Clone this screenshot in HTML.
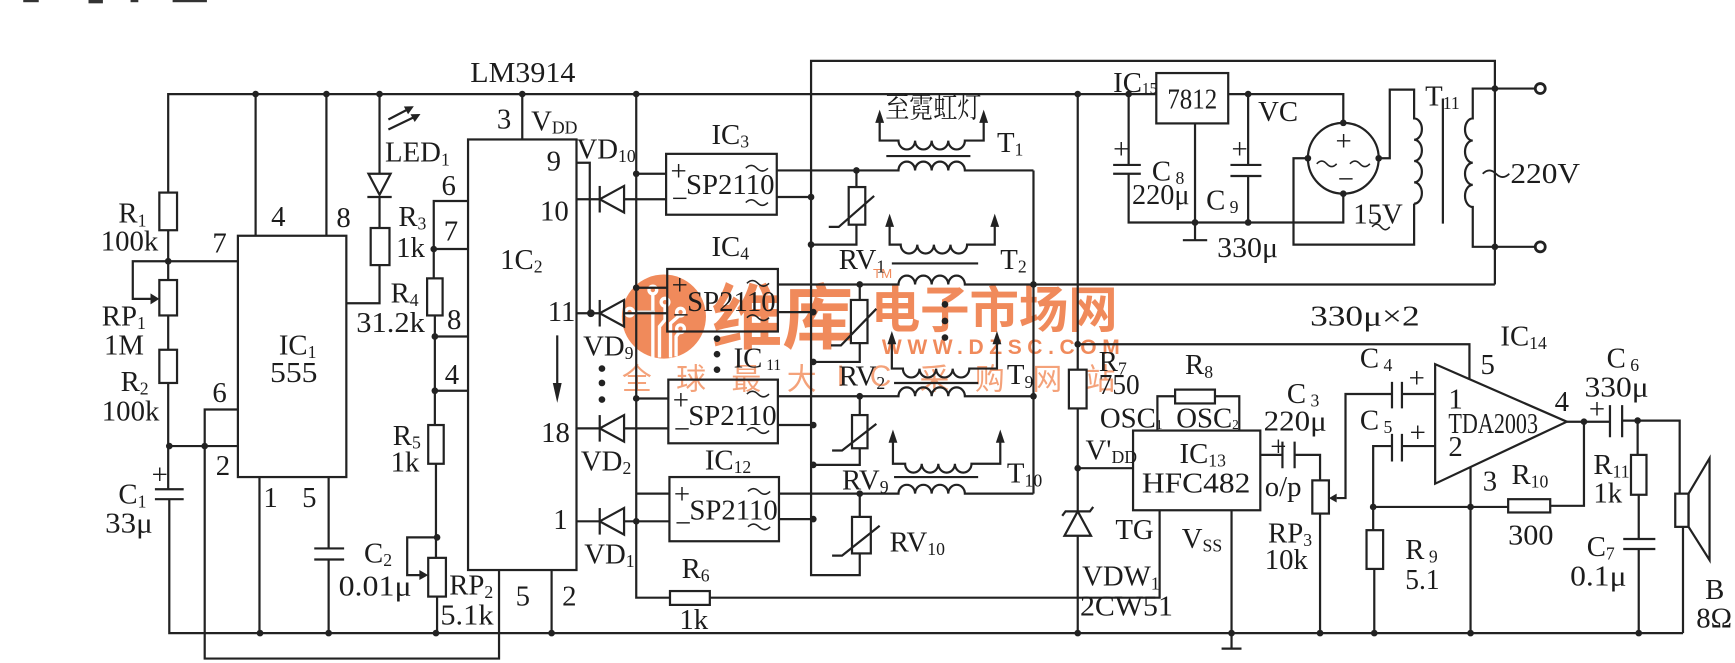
<!DOCTYPE html>
<html><head><meta charset="utf-8">
<style>
html,body{margin:0;padding:0;background:#fff;width:1735px;height:663px;overflow:hidden}
svg{display:block}
text{font-family:"Liberation Serif","Noto Serif CJK SC",serif;fill:#1c1c1c;dominant-baseline:central;font-size:26px}
</style></head><body>
<svg width="1735" height="663" viewBox="0 0 1568 599" preserveAspectRatio="none" xmlns="http://www.w3.org/2000/svg">
<rect x="0" y="0" width="1568" height="599" fill="#fff"/>
<g fill="#333"><rect x="21" y="0" width="14" height="2"/><rect x="80" y="0" width="13" height="3"/><rect x="118" y="0" width="7" height="2"/><rect x="156" y="0" width="31" height="2"/></g>

<!-- watermark -->
<g>
 <circle cx="600" cy="286" r="38" fill="#f08a5b"/>
 <g stroke="#fff" stroke-width="3" fill="none">
  <path d="M590,266 V323 M601,277 V289 L596,295 V323 M614,285 L606,292 V323 M614,300 L611,304 V322"/>
  <path d="M573,282 H592" stroke="#d9d9d9"/>
  <circle cx="590" cy="262" r="3.5"/><circle cx="601" cy="273" r="3.5"/><circle cx="569" cy="282" r="3.5"/><circle cx="615" cy="282" r="3.5"/><circle cx="615" cy="297" r="3.5"/>
 </g>
 <text x="643" y="283" style="font-family:'Noto Sans CJK SC',sans-serif;font-size:64px;font-weight:bold;fill:#f08a5b" textLength="128" lengthAdjust="spacingAndGlyphs">维库</text>
 <text x="787" y="277" style="font-family:'Noto Sans CJK SC',sans-serif;font-size:45px;font-weight:bold;fill:#f08a5b" textLength="223" lengthAdjust="spacingAndGlyphs">电子市场网</text>
 <text x="797" y="314" style="font-family:'Liberation Sans',sans-serif;font-size:19px;font-weight:bold;fill:#f08a5b" textLength="215" lengthAdjust="spacing">WWW.DZSC.COM</text>
 <text x="789" y="247" style="font-family:'Liberation Sans',sans-serif;font-size:12px;fill:#f08a5b">TM</text>
 <text x="562" y="340" style="font-family:'Noto Sans CJK SC',sans-serif;font-size:27px;fill:#f4a27a">全</text>
 <text x="611" y="340" style="font-family:'Noto Sans CJK SC',sans-serif;font-size:27px;fill:#f4a27a">球</text>
 <text x="661" y="340" style="font-family:'Noto Sans CJK SC',sans-serif;font-size:27px;fill:#f4a27a">最</text>
 <text x="711" y="340" style="font-family:'Noto Sans CJK SC',sans-serif;font-size:27px;fill:#f4a27a">大</text>
 <text x="756" y="340" style="font-family:'Liberation Sans',sans-serif;font-size:27px;fill:#f4a27a">I</text>
 <text x="786" y="340" style="font-family:'Liberation Sans',sans-serif;font-size:27px;fill:#f4a27a">C</text>
 <text x="831" y="340" style="font-family:'Noto Sans CJK SC',sans-serif;font-size:27px;fill:#f4a27a">采</text>
 <text x="881" y="340" style="font-family:'Noto Sans CJK SC',sans-serif;font-size:27px;fill:#f4a27a">购</text>
 <text x="933" y="340" style="font-family:'Noto Sans CJK SC',sans-serif;font-size:27px;fill:#f4a27a">网</text>
 <text x="981" y="340" style="font-family:'Noto Sans CJK SC',sans-serif;font-size:27px;fill:#f4a27a">站</text>
</g>

<!-- wires -->
<g stroke="#222" stroke-width="2" fill="none">
 <path d="M152,174 V85 H1045"/>
 <rect x="144" y="174" width="16" height="34"/>
 <path d="M152,208 V253"/>
 <rect x="144" y="253" width="16" height="32"/>
 <path d="M152,285 V316"/>
 <rect x="144" y="316" width="16" height="30"/>
 <path d="M152,346 V442"/>
 <path d="M140,442 H166 M140,451 H166"/>
 <path d="M153,451 V572 H1521"/>
 <path d="M152,236 H120 V270 H136"/>
 <path d="M152,236 H215"/>
 <rect x="215" y="213" width="98" height="218"/>
 <path d="M231,85 V213 M295,85 V213"/>
 <path d="M153,403 H215"/>
 <path d="M215,370 H185 V595 H451 V515"/>
 <path d="M234.5,431 V572"/>
 <path d="M297,431 V495.5 M284,495.5 H311 M284,505.5 H311 M297,505.5 V572"/>
 <path d="M343,85 V157"/>
 <polygon points="333,157 353,157 343,176"/>
 <path d="M332,178 H354 M343,178 V206"/>
 <rect x="335" y="206" width="17" height="33.5"/>
 <path d="M343,239.5 V274 H313"/>
 <path d="M351,108 L372,97 M351,117 L378,104"/>
 <path d="M423,181.6 H392 V251.5 M392,225 H423"/>
 <rect x="386" y="251.5" width="14" height="33.5"/>
 <path d="M393,285 V384 M393,304 H423 M393,353 H423"/>
 <rect x="387" y="384" width="14" height="35"/>
 <path d="M394,419 V504"/>
 <rect x="387" y="504" width="16" height="35"/>
 <path d="M395,539 V572"/>
 <path d="M395,485.5 H368 V519.6 H380"/>
 <rect x="423" y="126" width="98" height="389"/>
 <path d="M472,85 V126"/>
 <path d="M498.5,515 V572"/>
 <path d="M503.6,303 V350"/>
 <path d="M521,147 H533 V283"/>
 <path d="M521,180 H542 M564,180 H602"/>
 <polygon points="564,168 564,192 542,180"/><path d="M542,168 V192"/>
 <path d="M521,283 H542 M564,283 H603"/>
 <polygon points="564,271 564,295 542,283"/><path d="M542,271 V295"/>
 <path d="M521,387 H542 M564,387 H604"/>
 <polygon points="564,375 564,399 542,387"/><path d="M542,375 V399"/>
 <path d="M521,471 H542 M564,471 H605"/>
 <polygon points="564,459 564,483 542,471"/><path d="M542,459 V483"/>
 <path d="M575,85 V540 H605.5"/>
 <rect x="605.5" y="534" width="36" height="12.5"/>
 <path d="M641.5,540 H1048 V461"/>
 <path d="M575,157 H602 M575,260 H603 M575,360 H604 M575,446 H605"/>
 <rect x="602" y="139" width="100" height="55"/>
 <rect x="603" y="243" width="100" height="56.5"/>
 <rect x="604" y="343" width="99" height="57.5"/>
 <rect x="605" y="431" width="99" height="58"/>
 <g stroke-width="1.4">
  <path d="M674,152 q5,-5 10,0 t10,0 M674,183 q5,-5 10,0 t10,0"/>
  <path d="M675,256 q5,-5 10,0 t10,0 M675,287 q5,-5 10,0 t10,0"/>
  <path d="M675,356 q5,-5 10,0 t10,0 M675,389 q5,-5 10,0 t10,0"/>
  <path d="M676,444 q5,-5 10,0 t10,0 M676,476 q5,-5 10,0 t10,0"/>
 </g>
 <path d="M702,154 H812 a7.5,8 0 0 1 15,0 a7.5,8 0 0 1 15,0 a7.5,8 0 0 1 15,0 a7.5,8 0 0 1 15,0 H934"/>
 <path d="M702,178 H733"/>
 <path d="M703,257 H812 a7.5,8 0 0 1 15,0 a7.5,8 0 0 1 15,0 a7.5,8 0 0 1 15,0 a7.5,8 0 0 1 15,0 H1351"/>
 <path d="M703,282 H735"/>
 <path d="M703,358 H812 a7.5,8 0 0 1 15,0 a7.5,8 0 0 1 15,0 a7.5,8 0 0 1 15,0 a7.5,8 0 0 1 15,0 H934"/>
 <path d="M703,384 H735"/>
 <path d="M704,446 H812 a7.5,8 0 0 1 15,0 a7.5,8 0 0 1 15,0 a7.5,8 0 0 1 15,0 a7.5,8 0 0 1 15,0 H934"/>
 <path d="M704,469 H735"/>
 <path d="M777,500 V519.6 H733 V55 H1351 V257"/>
 <path d="M934,154 V446"/>
 <path d="M774,154 V169"/><rect x="767" y="169" width="15" height="34"/><path d="M774,203 V221 H733"/>
 <path d="M749,205 H758 L790,177"/>
 <path d="M777,257 V271"/><rect x="769" y="271" width="15" height="39"/><path d="M777,310 V327 H735"/>
 <path d="M751,312 H760 L792,279"/>
 <path d="M777,358 V375"/><rect x="770" y="375" width="14" height="30"/><path d="M777,405 V420 H735"/>
 <path d="M752,407 H761 L792,383"/>
 <path d="M777,446 V467"/><rect x="770" y="467" width="17" height="33"/>
 <path d="M752,502 H761 L795,475"/>
 <path d="M795,108 V127 H812 a7.5,8 0 0 0 15,0 a7.5,8 0 0 0 15,0 a7.5,8 0 0 0 15,0 a7.5,8 0 0 0 15,0 H889 V108"/>
 <path d="M801,141 H877"/>
 <path d="M804,202 V221 H814 a7.5,8 0 0 0 15,0 a7.5,8 0 0 0 15,0 a7.5,8 0 0 0 15,0 a7.5,8 0 0 0 15,0 H899 V202"/>
 <path d="M806,238 H884"/>
 <path d="M806,308 V333 H816 a7.5,8 0 0 0 15,0 a7.5,8 0 0 0 15,0 a7.5,8 0 0 0 15,0 a7.5,8 0 0 0 15,0 H901 V308"/>
 <path d="M808,346 H884"/>
 <path d="M807,397 V419 H818 a7.5,8 0 0 0 15,0 a7.5,8 0 0 0 15,0 a7.5,8 0 0 0 15,0 a7.5,8 0 0 0 15,0 H904 V397"/>
 <path d="M808,431 H884"/>
 <rect x="1045" y="66" width="65" height="45.5"/>
 <path d="M1110,85 H1214 V111"/>
 <circle cx="1214" cy="143" r="32"/>
 <path d="M1020,85 V149 M1006,149 H1031 M1006,157 H1031 M1020,157 V201 H1214 V175"/>
 <path d="M1080,111.5 V217 M1069,217 H1091"/>
 <path d="M1128,85 V149 M1112,149 H1140 M1112,159 H1140 M1128,159 V201"/>
 <path d="M1182,143 H1169 V221 H1278 V184"/>
 <path d="M1246,143 H1256 V81 H1278 V107 a7,9.6 0 0 1 0,19.25 a7,9.6 0 0 1 0,19.25 a7,9.6 0 0 1 0,19.25 a7,9.6 0 0 1 0,19.25"/>
 <path d="M1304,89 V202"/>
 <path d="M1351,80 H1331 V107 a7,10 0 0 0 0,20 a7,10 0 0 0 0,20 a7,10 0 0 0 0,20 a7,10 0 0 0 0,20 V223 H1351"/>
 <path d="M1351,80 H1388 M1351,223 H1388"/>
 <circle cx="1392" cy="80" r="4.5" stroke-width="2.5"/>
 <circle cx="1392" cy="223" r="4.5" stroke-width="2.5"/>
 <path d="M1190,148 q4.5,-5 9,0 t9,0 M1220,148 q4.5,-5 9,0 t9,0" stroke-width="1.4"/>
 <path d="M1240,205 q4,-5 8,0 t8,0" stroke-width="1.4"/>
 <path d="M974,85 V334"/>
 <rect x="966" y="334" width="16" height="35"/>
 <path d="M974,369 V462"/>
 <polygon points="962,484 986,484 974,462"/>
 <path d="M960,466 L963,462 H985 L988,458"/>
 <path d="M974,484 V572"/>
 <path d="M974,311 H1328 V342"/>
 <path d="M974,423 H1024"/>
 <rect x="1024" y="389" width="115" height="72"/>
 <path d="M1046,389 V358 H1062"/>
 <rect x="1062" y="352" width="36" height="12.5"/>
 <path d="M1098,358 H1120 V389"/>
 <path d="M1113,461 V586 M1104,586 H1122"/>
 <path d="M1139,411 H1159 M1159,399 V423 M1170,399 V423 M1170,411 H1193 V434"/>
 <rect x="1186" y="434" width="15" height="30"/>
 <path d="M1193,464 V572"/>
 <path d="M1258,356 H1216 V450 H1208"/>
 <path d="M1258,345 V369 M1267,345 V369 M1267,356 H1297"/>
 <path d="M1258,392 V417 M1267,392 V417 M1258,403 H1241 V479 M1267,403 H1297"/>
 <rect x="1235" y="479" width="15" height="35"/>
 <path d="M1242,514 V572"/>
 <path d="M1241,458 H1363"/>
 <rect x="1363" y="451" width="38" height="12"/>
 <path d="M1401,457 H1431.5 V381"/>
 <polygon points="1297,329 1297,437 1416,381"/>
 <path d="M1329,422 V572"/>
 <path d="M1416,381 H1455 M1455,366 V395 M1466,366 V395 M1466,380 H1518 V446"/>
 <path d="M1480,380 V411"/>
 <rect x="1474" y="411" width="14" height="36"/>
 <path d="M1481,447 V487 M1467,487 H1496 M1467,496 H1496 M1481,496 V572"/>
 <rect x="1514" y="446" width="12" height="30"/>
 <polygon points="1526,446 1545,414 1545,506 1526,476"/>
 <path d="M1521,476 V572"/>
</g>

<g fill="#222">
 <polygon points="136,265 144,270 136,275"/>
 <polygon points="379,515 387,519.6 379,524"/>
 <polygon points="1208,446 1201,450 1208,454"/>
 <polygon points="499.6,346 507.6,346 503.6,364"/>
 <polygon points="374,96 368.8,103.2 365,96.2"/>
 <polygon points="380,103 374.8,110.2 371,103.2"/>
 <polygon points="795,99 791,111 799,111"/><polygon points="889,99 885,111 893,111"/>
 <polygon points="804,193 800,205 808,205"/><polygon points="899,193 895,205 903,205"/>
 <polygon points="806,299 802,311 810,311"/><polygon points="901,299 897,311 905,311"/>
 <polygon points="807,388 803,400 811,400"/><polygon points="904,388 900,400 908,400"/>
 <circle cx="231" cy="85" r="3"/><circle cx="295" cy="85" r="3"/><circle cx="343" cy="85" r="3"/><circle cx="472" cy="85" r="3"/><circle cx="575" cy="85" r="3"/><circle cx="974" cy="85" r="3"/><circle cx="1020" cy="85" r="3"/><circle cx="1128" cy="85" r="3"/>
 <circle cx="152" cy="236" r="3"/><circle cx="153" cy="403" r="3"/><circle cx="185" cy="403" r="3"/><circle cx="392" cy="225" r="3"/><circle cx="393" cy="304" r="3"/><circle cx="393" cy="353" r="3"/><circle cx="395" cy="485.5" r="3"/>
 <circle cx="235" cy="572" r="3"/><circle cx="297" cy="572" r="3"/><circle cx="394" cy="572" r="3"/><circle cx="498.5" cy="572" r="3"/><circle cx="974" cy="572" r="3"/><circle cx="1113" cy="572" r="3"/><circle cx="1193" cy="572" r="3"/><circle cx="1242" cy="572" r="3"/><circle cx="1329" cy="572" r="3"/><circle cx="1481" cy="572" r="3"/>
 <circle cx="534" cy="283" r="3.5"/><circle cx="575" cy="157" r="3"/><circle cx="575" cy="260" r="3"/><circle cx="575" cy="360" r="3"/><circle cx="575" cy="471" r="3"/>
 <circle cx="733" cy="178" r="3"/><circle cx="733" cy="221" r="3"/><circle cx="735" cy="282" r="3"/><circle cx="735" cy="327" r="3"/><circle cx="735" cy="384" r="3"/><circle cx="735" cy="420" r="3"/><circle cx="735" cy="469" r="3"/>
 <circle cx="774" cy="154" r="3"/><circle cx="777" cy="257" r="3"/><circle cx="777" cy="358" r="3"/><circle cx="777" cy="446" r="3"/>
 <circle cx="934" cy="257" r="3"/><circle cx="934" cy="358" r="3"/>
 <circle cx="1080" cy="201" r="3"/><circle cx="1128" cy="201" r="3"/><circle cx="1214" cy="111" r="3"/><circle cx="1214" cy="175" r="3"/><circle cx="1182" cy="143" r="3"/><circle cx="1246" cy="143" r="3"/>
 <circle cx="1351" cy="80" r="3"/><circle cx="1351" cy="223" r="3"/>
 <circle cx="974" cy="311" r="3"/><circle cx="974" cy="423" r="3"/><circle cx="1241" cy="458" r="3"/><circle cx="1329" cy="458" r="3"/><circle cx="1431.5" cy="381" r="3"/><circle cx="1480" cy="380" r="3"/>
 <circle cx="544" cy="333" r="3"/><circle cx="544" cy="346" r="3"/><circle cx="544" cy="361" r="3"/>
 <circle cx="648" cy="306" r="3"/><circle cx="648" cy="320" r="3"/><circle cx="648" cy="334" r="3"/>
 <circle cx="854" cy="275" r="3"/><circle cx="854" cy="290" r="3"/><circle cx="854" cy="305" r="3"/>
</g>

<!-- labels -->
<text x="425" y="66" textLength="95" lengthAdjust="spacingAndGlyphs">LM3914</text>
<text x="107" y="193">R<tspan font-size="16" dy="6">1</tspan></text>
<text x="91" y="218" textLength="52" lengthAdjust="spacingAndGlyphs">100k</text>
<text x="192" y="220">7</text>
<text x="245" y="196">4</text>
<text x="304" y="197">8</text>
<text x="92" y="286">RP<tspan font-size="16" dy="6">1</tspan></text>
<text x="94" y="312">1M</text>
<text x="109" y="345">R<tspan font-size="16" dy="6">2</tspan></text>
<text x="92" y="372" textLength="52" lengthAdjust="spacingAndGlyphs">100k</text>
<text x="192" y="355">6</text>
<text x="195" y="421">2</text>
<text x="107" y="447">C<tspan font-size="16" dy="6">1</tspan></text>
<text x="137" y="429" font-size="20">+</text>
<text x="95" y="473" textLength="43" lengthAdjust="spacingAndGlyphs">33μ</text>
<text x="252" y="312">IC<tspan font-size="16" dy="6">1</tspan></text>
<text x="244" y="337" textLength="43" lengthAdjust="spacingAndGlyphs">555</text>
<text x="238" y="450">1</text>
<text x="273" y="450">5</text>
<text x="329" y="500">C<tspan font-size="16" dy="6">2</tspan></text>
<text x="306" y="530" textLength="66" lengthAdjust="spacingAndGlyphs">0.01μ</text>
<text x="406" y="529">RP<tspan font-size="16" dy="6">2</tspan></text>
<text x="398" y="556" textLength="48" lengthAdjust="spacingAndGlyphs">5.1k</text>
<text x="355" y="394">R<tspan font-size="16" dy="6">5</tspan></text>
<text x="353" y="418">1k</text>
<text x="402" y="339">4</text>
<text x="404" y="289">8</text>
<text x="322" y="292" textLength="62" lengthAdjust="spacingAndGlyphs">31.2k</text>
<text x="353" y="265">R<tspan font-size="16" dy="6">4</tspan></text>
<text x="401" y="209">7</text>
<text x="399" y="168">6</text>
<text x="360" y="196">R<tspan font-size="16" dy="6">3</tspan></text>
<text x="358" y="224">1k</text>
<text x="348" y="138">LED<tspan font-size="16" dy="6">1</tspan></text>
<text x="449" y="108">3</text>
<text x="480" y="110">V<tspan font-size="16" dy="5">DD</tspan></text>
<text x="521" y="135">VD<tspan font-size="16" dy="6">10</tspan></text>
<text x="494" y="146">9</text>
<text x="488" y="191">10</text>
<text x="452" y="235">1C<tspan font-size="16" dy="6">2</tspan></text>
<text x="495" y="282">11</text>
<text x="527" y="313">VD<tspan font-size="16" dy="6">9</tspan></text>
<text x="489" y="391">18</text>
<text x="525" y="417">VD<tspan font-size="16" dy="6">2</tspan></text>
<text x="500" y="470">1</text>
<text x="528" y="501">VD<tspan font-size="16" dy="6">1</tspan></text>
<text x="466" y="539">5</text>
<text x="508" y="539">2</text>

<text x="643" y="122">IC<tspan font-size="16" dy="6">3</tspan></text>
<text x="643" y="223">IC<tspan font-size="16" dy="6">4</tspan></text>
<text x="663" y="324">IC<tspan font-size="14" dy="6"> 11</tspan></text>
<text x="637" y="416">IC<tspan font-size="16" dy="6">12</tspan></text>
<text x="620" y="167" font-size="21">SP2110</text>
<text x="621" y="273" font-size="21">SP2110</text>
<text x="622" y="376" font-size="21">SP2110</text>
<text x="623" y="461" font-size="21">SP2110</text>
<text x="606" y="155" font-size="22">+</text><text x="607" y="180" font-size="18">−</text>
<text x="607" y="258" font-size="22">+</text><text x="608" y="285" font-size="18">−</text>
<text x="608" y="362" font-size="22">+</text><text x="609" y="388" font-size="18">−</text>
<text x="609" y="447" font-size="22">+</text><text x="610" y="473" font-size="18">−</text>
<text x="616" y="514">R<tspan font-size="16" dy="6">6</tspan></text>
<text x="614" y="560">1k</text>
<text x="800" y="98" font-size="21" textLength="87" lengthAdjust="spacingAndGlyphs">至霓虹灯</text>
<text x="901" y="129">T<tspan font-size="16" dy="6">1</tspan></text>
<text x="904" y="235">T<tspan font-size="16" dy="6">2</tspan></text>
<text x="910" y="339">T<tspan font-size="16" dy="6">9</tspan></text>
<text x="910" y="428">T<tspan font-size="16" dy="6">10</tspan></text>
<text x="758" y="235">RV<tspan font-size="16" dy="6">1</tspan></text>
<text x="758" y="340">RV<tspan font-size="16" dy="6">2</tspan></text>
<text x="761" y="434">RV<tspan font-size="16" dy="6">9</tspan></text>
<text x="804" y="490">RV<tspan font-size="16" dy="6">10</tspan></text>

<text x="1006" y="75" font-size="24">IC<tspan font-size="14" dy="5">15</tspan></text>
<text x="1055" y="90" font-size="23" textLength="45" lengthAdjust="spacingAndGlyphs">7812</text>
<text x="1137" y="101">VC</text>
<text x="1041" y="155">C<tspan font-size="16" dy="6"> 8</tspan></text>
<text x="1023" y="176" textLength="52" lengthAdjust="spacingAndGlyphs">220μ</text>
<text x="1090" y="181">C<tspan font-size="16" dy="6"> 9</tspan></text>
<text x="1100" y="224" textLength="55" lengthAdjust="spacingAndGlyphs">330μ</text>
<text x="1006" y="135" font-size="20">+</text>
<text x="1113" y="135" font-size="20">+</text>
<text x="1207" y="128" font-size="20">+</text>
<text x="1209" y="162" font-size="20">−</text>
<text x="1223" y="194">15V</text>
<text x="1288" y="87">T<tspan font-size="16" dy="6">11</tspan></text>
<path d="M1340,157 q6,-6 12,0 t12,0" stroke="#222" stroke-width="1.6" fill="none"/>
<text x="1365" y="157" textLength="63" lengthAdjust="spacingAndGlyphs">220V</text>

<text x="1184" y="286" font-size="28" textLength="99" lengthAdjust="spacingAndGlyphs">330μ×2</text>
<text x="993" y="327">R<tspan font-size="16" dy="6">7</tspan></text>
<text x="993" y="348" textLength="37" lengthAdjust="spacingAndGlyphs">750</text>
<text x="1071" y="330">R<tspan font-size="16" dy="6">8</tspan></text>
<text x="994" y="378" font-size="18">OSC<tspan font-size="12" dy="5">1</tspan></text>
<text x="1063" y="378" font-size="18">OSC<tspan font-size="12" dy="5">2</tspan></text>
<text x="981" y="407">V'<tspan font-size="16" dy="6">DD</tspan></text>
<text x="1066" y="410">IC<tspan font-size="16" dy="6">13</tspan></text>
<text x="1032" y="437" font-size="27" textLength="98" lengthAdjust="spacingAndGlyphs">HFC482</text>
<text x="1008" y="479">TG</text>
<text x="1068" y="487">V<tspan font-size="16" dy="6">SS</tspan></text>
<text x="978" y="521">VDW<tspan font-size="16" dy="6">1</tspan></text>
<text x="976" y="548" font-size="27" textLength="84" lengthAdjust="spacingAndGlyphs">2CW51</text>
<text x="1163" y="356">C<tspan font-size="16" dy="6"> 3</tspan></text>
<text x="1142" y="381" textLength="57" lengthAdjust="spacingAndGlyphs">220μ</text>
<text x="1148" y="404" font-size="20">+</text>
<text x="1143" y="440">o/p</text>
<text x="1146" y="482">RP<tspan font-size="16" dy="6">3</tspan></text>
<text x="1143" y="506" textLength="39" lengthAdjust="spacingAndGlyphs">10k</text>
<text x="1229" y="324">C<tspan font-size="16" dy="6"> 4</tspan></text>
<text x="1229" y="380">C<tspan font-size="16" dy="6"> 5</tspan></text>
<text x="1273" y="342" font-size="20">+</text>
<text x="1274" y="391" font-size="20">+</text>
<text x="1270" y="497">R<tspan font-size="16" dy="6"> 9</tspan></text>
<text x="1270" y="524" textLength="31" lengthAdjust="spacingAndGlyphs">5.1</text>
<text x="1356" y="304">IC<tspan font-size="16" dy="6">14</tspan></text>
<text x="1338" y="330">5</text>
<text x="1309" y="361">1</text>
<text x="1309" y="383" font-size="19" textLength="81" lengthAdjust="spacingAndGlyphs">TDA2003</text>
<text x="1309" y="404">2</text>
<text x="1405" y="363">4</text>
<text x="1340" y="435">3</text>
<text x="1366" y="429">R<tspan font-size="16" dy="6">10</tspan></text>
<text x="1363" y="484" textLength="41" lengthAdjust="spacingAndGlyphs">300</text>
<text x="1452" y="324">C<tspan font-size="16" dy="6"> 6</tspan></text>
<text x="1432" y="350" textLength="58" lengthAdjust="spacingAndGlyphs">330μ</text>
<text x="1436" y="370" font-size="20">+</text>
<text x="1440" y="420">R<tspan font-size="16" dy="6">11</tspan></text>
<text x="1440" y="446">1k</text>
<text x="1434" y="494">C<tspan font-size="16" dy="6">7</tspan></text>
<text x="1419" y="521" textLength="51" lengthAdjust="spacingAndGlyphs">0.1μ</text>
<text x="1541" y="533">B</text>
<text x="1533" y="559">8Ω</text>
</svg>
</body></html>
